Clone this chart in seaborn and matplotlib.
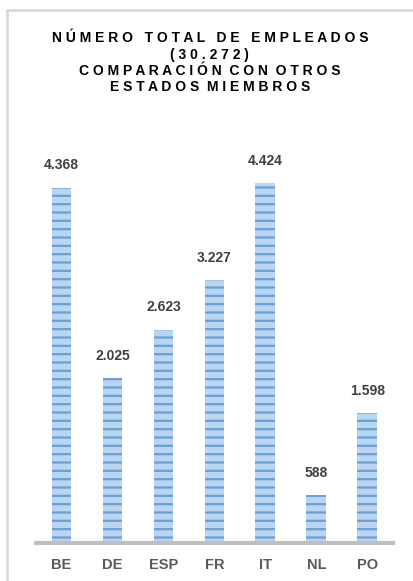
import matplotlib
matplotlib.use('Agg')
import matplotlib.pyplot as plt
import seaborn as sns
import pandas as pd
from matplotlib.lines import Line2D

# Datos
paises = ['BE', 'DE', 'ESP', 'FR', 'IT', 'NL', 'PO']
empleados = [4368, 2025, 2623, 3227, 4424, 588, 1598]
etiquetas = ['4.368', '2.025', '2.623', '3.227', '4.424', '588', '1.598']

titulo = ('N Ú M E R O   T O T A L   D E   E M P L E A D O S\n'
          '( 3 0 . 2 7 2 )\n'
          'C O M P A R A C I Ó N  C O N  O T R O S\n'
          'E S T A D O S  M I E M B R O S')

sns.set_style('white')
plt.rcParams['font.family'] = ['Liberation Sans', 'DejaVu Sans']
plt.rcParams['hatch.linewidth'] = 1.6
plt.rcParams['hatch.color'] = '#6a9fd6'

df = pd.DataFrame({'pais': paises, 'empleados': empleados})

fig = plt.figure(figsize=(4.14, 5.81), dpi=100)
ax = fig.add_axes([0.087, 0.0654, 0.862, 0.677])

sns.barplot(data=df, x='pais', y='empleados', ax=ax, color='#bad5f0',
            width=0.39, saturation=1)
for p in ax.patches:
    p.set_hatch('--')
    p.set_edgecolor('#6a9fd6')
    p.set_linewidth(0)

for i, (v, t) in enumerate(zip(empleados, etiquetas)):
    ax.text(i, v + 190, t, ha='center', va='bottom', fontsize=10,
            fontweight='bold', color='#404040')

ax.set_xlim(-0.5, 6.5)
ax.set_ylim(0, 4834)
ax.set_xlabel('')
ax.set_ylabel('')
ax.set_yticks([])
ax.tick_params(axis='x', length=0, pad=11, labelsize=10.5, labelcolor='#595959')
for lab in ax.get_xticklabels():
    lab.set_fontweight('bold')
for s in ['top', 'right', 'left']:
    ax.spines[s].set_visible(False)
ax.spines['bottom'].set_color('#bfbfbf')
ax.spines['bottom'].set_linewidth(3)

fig.text(0.507, 0.946, titulo, ha='center', va='top', fontsize=10,
         fontweight='bold', color='black', linespacing=1.2)

# marco exterior
fig.add_artist(Line2D([0.017, 1.0], [0.983, 0.983], transform=fig.transFigure,
                      color='#d9d9d9', linewidth=2))
fig.add_artist(Line2D([0.017, 0.017], [0.0, 0.983], transform=fig.transFigure,
                      color='#d9d9d9', linewidth=2))

fig.savefig('out.png', dpi=100)
